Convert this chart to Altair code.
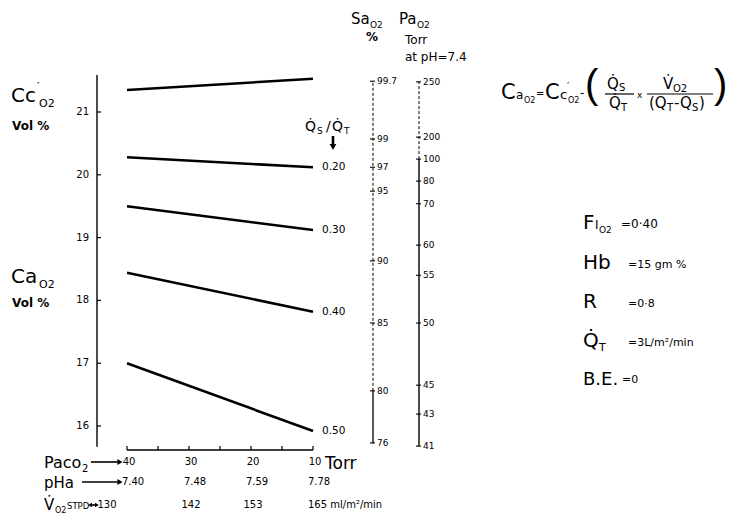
import altair as alt
import pandas as pd

# ---------------- data ----------------
SHUNT_SERIES = ["Cc'O2", "0.20", "0.30", "0.40", "0.50"]
PACO2_ENDS = [40, 10]
CAO2_AT_40 = [21.35, 20.28, 19.50, 18.44, 17.00]
CAO2_AT_10 = [21.53, 20.12, 19.12, 17.82, 15.92]

LEFT_TICKS = [16, 17, 18, 19, 20, 21]
LEFT_AXIS_RANGE = [15.67, 21.59]

SAO2_LABELS = ["99.7", "99", "97", "95", "90", "85", "80", "76"]
SAO2_AT_CAO2 = [21.49, 20.57, 20.12, 19.74, 18.63, 17.64, 16.56, 15.73]

PAO2_LABELS = ["250", "200", "100", "80", "70", "60", "55", "50", "45", "43", "41"]
PAO2_AT_CAO2 = [21.48, 20.60, 20.25, 19.90, 19.54, 18.88, 18.40, 17.64, 16.65, 16.19, 15.68]

PACO2_TICKS = [40, 35, 30, 25, 20, 15, 10]
PACO2_LABELS = [40, 30, 20, 10]
PHA_LABELS = ["7.40", "7.48", "7.59", "7.78"]
VO2_LABELS = ["130", "142", "153", "165 ml/m²/min"]

# ---------------- layout ----------------
PAD = 8
W, H = 719, 506
FONT = "DejaVu Sans"
PX_AT_40, TORR_PX = 127 - PAD, 6.2
PY_AT_21, VOL_PX = 112 - PAD, 62.8
X_DOM = [40 + PX_AT_40 / TORR_PX, 40 - (W - PX_AT_40) / TORR_PX]
Y_DOM = [21 - (H - PY_AT_21) / VOL_PX, 21 + PY_AT_21 / VOL_PX]
xs = alt.Scale(domain=X_DOM, range=[0, W], nice=False, zero=False)
ys = alt.Scale(domain=Y_DOM, range=[H, 0], nice=False, zero=False)

ONE = pd.DataFrame({"a": [0]})


def T(text, x, y, size=10, weight="normal", align="left", baseline="alphabetic", font=FONT):
    return alt.Chart(ONE).mark_text(
        text=text, fontSize=size, fontWeight=weight, align=align,
        baseline=baseline, font=font, color="black"
    ).encode(x=alt.value(x - PAD), y=alt.value(y - PAD))


def R(x1, y1, x2, y2, w=1.2, dash=None):
    kw = dict(color="black", strokeWidth=w)
    if dash:
        kw["strokeDash"] = dash
    return alt.Chart(ONE).mark_rule(**kw).encode(
        x=alt.value(x1 - PAD), y=alt.value(y1 - PAD),
        x2=alt.value(x2 - PAD), y2=alt.value(y2 - PAD))


def TRI(x, y, shape, size=40):
    return alt.Chart(ONE).mark_point(shape=shape, filled=True, size=size, color="black",
                                     opacity=1).encode(
        x=alt.value(x - PAD), y=alt.value(y - PAD))


def vaxis(x, lo, hi, w=1.2, dash=None):
    kw = dict(color="black", strokeWidth=w)
    if dash:
        kw["strokeDash"] = dash
    return alt.Chart(pd.DataFrame({"lo": [lo], "hi": [hi]})).mark_rule(**kw).encode(
        x=alt.value(x - PAD), y=alt.Y("lo:Q", scale=ys, axis=None), y2="hi:Q")


layers = []

# ---- shunt lines ----
rows = []
for s, a, b in zip(SHUNT_SERIES, CAO2_AT_40, CAO2_AT_10):
    rows.append({"series": s, "paco2": PACO2_ENDS[0], "cao2": a})
    rows.append({"series": s, "paco2": PACO2_ENDS[1], "cao2": b})
lines_df = pd.DataFrame(rows)
layers.append(alt.Chart(lines_df).mark_line(color="black", strokeWidth=2.6).encode(
    x=alt.X("paco2:Q", scale=xs, axis=None),
    y=alt.Y("cao2:Q", scale=ys, axis=None),
    detail="series:N"))

end_df = lines_df[(lines_df.paco2 == PACO2_ENDS[1]) & (lines_df.series != SHUNT_SERIES[0])]
layers.append(alt.Chart(end_df).mark_text(align="left", baseline="middle", dx=9,
                                          fontSize=10.5, font=FONT).encode(
    x=alt.X("paco2:Q", scale=xs, axis=None), y=alt.Y("cao2:Q", scale=ys, axis=None),
    text="series:N"))

# ---- left CaO2 axis ----
layers.append(vaxis(97, *LEFT_AXIS_RANGE, w=1.4))
lt = pd.DataFrame({"v": LEFT_TICKS})
layers.append(alt.Chart(lt).mark_rule(color="black", strokeWidth=1.2).encode(
    y=alt.Y("v:Q", scale=ys, axis=None), x=alt.value(97 - PAD), x2=alt.value(101 - PAD)))
layers.append(alt.Chart(lt).mark_text(align="right", baseline="middle", fontSize=10,
                                      font=FONT).encode(
    y=alt.Y("v:Q", scale=ys, axis=None), x=alt.value(89 - PAD), text="v:Q"))

# ---- SaO2 scale ----
SA_X = 373
layers.append(vaxis(SA_X, SAO2_AT_CAO2[-2], SAO2_AT_CAO2[0], w=1.0, dash=[3, 2]))
layers.append(vaxis(SA_X, SAO2_AT_CAO2[-1], SAO2_AT_CAO2[-2], w=1.3))
sa = pd.DataFrame({"lab": SAO2_LABELS, "v": SAO2_AT_CAO2})
layers.append(alt.Chart(sa).mark_rule(color="black", strokeWidth=1.1).encode(
    y=alt.Y("v:Q", scale=ys, axis=None), x=alt.value(SA_X - 3 - PAD), x2=alt.value(SA_X + 2 - PAD)))
layers.append(alt.Chart(sa).mark_text(align="left", baseline="middle", fontSize=9,
                                      font=FONT).encode(
    y=alt.Y("v:Q", scale=ys, axis=None), x=alt.value(SA_X + 4 - PAD), text="lab:N"))

# ---- PaO2 scale ----
PA_X = 419
layers.append(vaxis(PA_X, PAO2_AT_CAO2[2], PAO2_AT_CAO2[0], w=1.0, dash=[3, 2]))
layers.append(vaxis(PA_X, PAO2_AT_CAO2[-1], PAO2_AT_CAO2[2], w=1.4))
pa = pd.DataFrame({"lab": PAO2_LABELS, "v": PAO2_AT_CAO2})
layers.append(alt.Chart(pa).mark_rule(color="black", strokeWidth=1.1).encode(
    y=alt.Y("v:Q", scale=ys, axis=None), x=alt.value(PA_X - 3 - PAD), x2=alt.value(PA_X + 2 - PAD)))
layers.append(alt.Chart(pa).mark_text(align="left", baseline="middle", fontSize=9,
                                      font=FONT).encode(
    y=alt.Y("v:Q", scale=ys, axis=None), x=alt.value(PA_X + 4 - PAD), text="lab:N"))

# ---- bottom PaCO2 axis ----
layers.append(alt.Chart(pd.DataFrame({"a": [PACO2_TICKS[0]], "b": [PACO2_TICKS[-1]]})).mark_rule(
    color="black", strokeWidth=1.4).encode(
    x=alt.X("a:Q", scale=xs, axis=None), x2="b:Q", y=alt.value(450 - PAD)))
layers.append(alt.Chart(pd.DataFrame({"p": PACO2_TICKS})).mark_rule(
    color="black", strokeWidth=1.2).encode(
    x=alt.X("p:Q", scale=xs, axis=None), y=alt.value(450 - PAD), y2=alt.value(446 - PAD)))

layers.append(alt.Chart(pd.DataFrame({"p": PACO2_LABELS})).mark_text(
    align="center", baseline="middle", dx=2, fontSize=10, font=FONT).encode(
    x=alt.X("p:Q", scale=xs, axis=None), y=alt.value(462 - PAD), text="p:Q"))
layers.append(alt.Chart(pd.DataFrame({"p": PACO2_LABELS, "t": PHA_LABELS})).mark_text(
    align="center", baseline="middle", dx=6, fontSize=10, font=FONT).encode(
    x=alt.X("p:Q", scale=xs, axis=None), y=alt.value(482 - PAD), text="t:N"))
vo = pd.DataFrame({"p": PACO2_LABELS, "t": VO2_LABELS})
layers.append(alt.Chart(vo.iloc[:1]).mark_text(
    align="center", baseline="middle", dx=-20, fontSize=10, font=FONT).encode(
    x=alt.X("p:Q", scale=xs, axis=None), y=alt.value(505 - PAD), text="t:N"))
layers.append(alt.Chart(vo.iloc[1:3]).mark_text(
    align="center", baseline="middle", dx=2, fontSize=10, font=FONT).encode(
    x=alt.X("p:Q", scale=xs, axis=None), y=alt.value(505 - PAD), text="t:N"))
layers.append(alt.Chart(vo.iloc[3:]).mark_text(
    align="left", baseline="middle", dx=-5, fontSize=10, font=FONT).encode(
    x=alt.X("p:Q", scale=xs, axis=None), y=alt.value(505 - PAD), text="t:N"))

# row titles and arrows
layers += [
    T("Paco", 44, 468, 16), T("2", 82, 472, 10),
    R(91, 462, 118, 462, 1.6), TRI(120, 462, "triangle-right", 35),
    T("Torr", 325, 469, 17),
    T("pHa", 44, 488, 15),
    R(82, 482, 118, 482, 1.6), TRI(120, 482, "triangle-right", 35),
    T("V\u0307", 44, 510, 15), T("O2", 55, 513, 8), T("STPD", 67, 509, 8.5),
    R(90, 505, 96, 505, 1.6), TRI(97, 505, "triangle-right", 20), TRI(90, 505, "triangle-left", 20),
]

# left titles
layers += [
    T("Cc", 11, 102, 20), T("\u2032", 37, 90, 11), T("O2", 39, 107, 11),
    T("Vol %", 12, 130, 12, "bold"),
    T("Ca", 11, 283, 20), T("O2", 39, 288, 11),
    T("Vol %", 12, 307, 12, "bold"),
]

# header for right scales
layers += [
    T("Sa", 351, 24, 15), T("O2", 370, 28, 9), T("%", 366, 41, 12, "bold"),
    T("Pa", 399, 24, 15), T("O2", 417, 28, 9),
    T("Torr", 405, 44, 12), T("at pH=7.4", 405, 61, 12),
]

# Qs/Qt label with arrow
layers += [
    T("Q\u0307", 305, 131, 14), T("S", 317, 134, 9), T("/", 326, 131, 14),
    T("Q\u0307", 332, 131, 14), T("T", 344, 134, 9),
    R(333, 136, 333, 144, 2.6), TRI(333, 147, "triangle-down", 45),
]

# formula
PAREN = "Liberation Sans"
layers += [
    T("C", 501, 99, 21), T("a", 516, 99, 12), T("O2", 524, 103, 8),
    T("=", 536, 97, 10),
    T("C", 545, 99, 21), T("c", 560, 99, 13), T("\u2032", 567, 90, 10), T("O2", 568, 103, 8),
    T("-", 580, 97, 12),
    T("(", 585, 98, 40, font=PAREN),
    T("Q\u0307", 607, 89, 15), T("S", 619, 91, 10),
    R(605, 94, 634, 94, 1.2),
    T("Q\u0307", 609, 108, 15), T("T", 621, 111, 10),
    T("x", 637, 98, 9),
    T("V\u0307", 663, 89, 15), T("O2", 673, 92, 10),
    R(647, 94, 713, 94, 1.2),
    T("(Q", 649, 108, 15), T("T", 667, 111, 10), T("-Q", 674, 108, 15),
    T("S", 692, 111, 10), T(")", 699, 108, 15),
    T(")", 714, 98, 40, font=PAREN),
]

# conditions
layers += [
    T("F", 583, 229, 20), T("I", 595, 229, 12), T("O2", 599, 233, 9), T("=0\u00b740", 621, 228, 12),
    T("Hb", 583, 269, 20), T("=15 gm %", 628, 268, 11),
    T("R", 583, 308, 20), T("=0\u00b78", 628, 307, 11),
    T("Q\u0307", 583, 347, 20), T("T", 599, 351, 11), T("=3L/m\u00b2/min", 628, 346, 11),
    T("B.E.", 583, 385, 18), T("=0", 622, 383, 11),
]

chart = alt.layer(*layers).properties(
    width=W, height=H, padding=0,
    autosize=alt.AutoSizeParams(type="none"),
).configure_view(strokeWidth=0)

chart.save("out.html", embed_options={"renderer": "svg", "actions": False})
